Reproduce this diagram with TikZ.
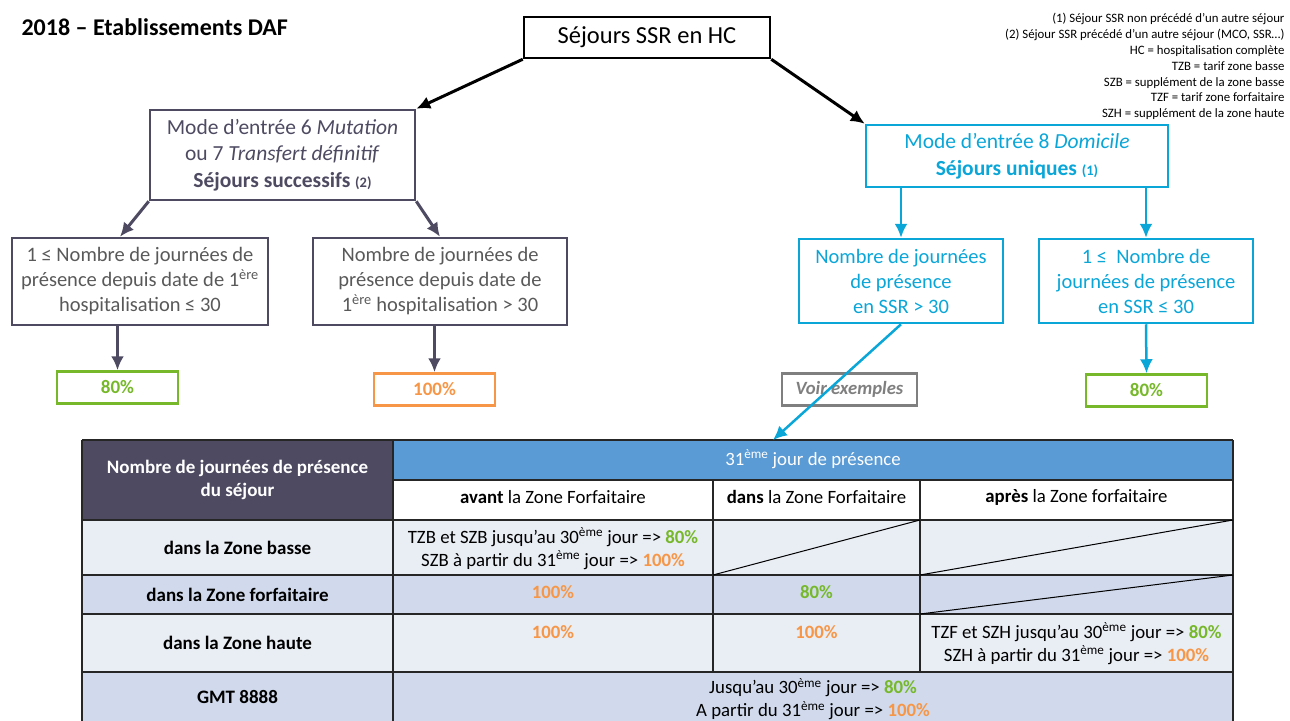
\documentclass[tikz,border=0pt]{standalone}
\usepackage{fontspec}
\setmainfont{Carlito}
\usetikzlibrary{arrows.meta}

\definecolor{ardoise}{HTML}{4E4A62}
\definecolor{grisbox}{HTML}{595959}
\definecolor{cyanbox}{HTML}{0AA6D8}
\definecolor{vert}{HTML}{76B82A}
\definecolor{orange}{HTML}{F79646}
\definecolor{grisvoir}{HTML}{7F7F7F}
\definecolor{bleutab}{HTML}{5B9BD5}
\definecolor{lignea}{HTML}{E9EDF4}
\definecolor{ligneb}{HTML}{D0DAEC}

\newcommand{\vpct}[1]{\textcolor{vert}{\textbf{#1}}}
\newcommand{\opct}[1]{\textcolor{orange}{\textbf{#1}}}
\newcommand{\eme}{\textsuperscript{ème}}

\tikzset{
  >={Latex[length=14pt,width=13pt]},
  boite/.style={draw, line width=2.5pt, align=center, inner sep=0pt},
  pctbox/.style={draw, line width=2.5pt, inner sep=0pt, minimum width=121pt, minimum height=32pt,
    font=\fontsize{19}{22}\selectfont\bfseries},
  cellule/.style={align=center, font=\fontsize{18.8}{23}\selectfont},
  libelle/.style={align=center, font=\fontsize{19}{23}\selectfont\bfseries},
  grille/.style={line width=1.3pt, draw=black!85},
}

\begin{document}
\begin{tikzpicture}[x=1pt,y=-1pt]
  \useasboundingbox (0,0) rectangle (1290,720);

  \node[anchor=west, font=\fontsize{24}{28}\selectfont\bfseries] (titre) at (18,27) {2018 – Etablissements DAF};
  \node[anchor=north east, align=right, font=\fontsize{12.8}{15.8}\selectfont] (notes) at (1288,10)
    {(1) Séjour SSR non précédé d’un autre séjour\\
     (2) Séjour SSR précédé d’un autre séjour (MCO, SSR…)\\
     HC = hospitalisation complète\\
     TZB = tarif zone basse\\
     SZB = supplément de la zone basse\\
     TZF = tarif zone forfaitaire\\
     SZH = supplément de la zone haute};

  % arbre
  \node[boite, draw=black, minimum width=246pt, minimum height=41pt, font=\fontsize{24.5}{28}\selectfont] (hc) at (647,37.5) {Séjours SSR en HC};

  \node[boite, draw=ardoise, text=ardoise, minimum width=265pt, minimum height=90pt, font=\fontsize{21.5}{26.5}\selectfont] (mut) at (282.5,155)
    {Mode d’entrée 6 \textit{Mutation}\\ ou 7 \textit{Transfert définitif}\\ \textbf{Séjours successifs} {\fontsize{14.5}{15}\selectfont\textbf{(2)}}};
  \node[boite, draw=cyanbox, text=cyanbox, minimum width=302pt, minimum height=62pt, font=\fontsize{21.5}{26.5}\selectfont] (dom) at (1017,156)
    {Mode d’entrée 8 \textit{Domicile}\\ \textbf{Séjours uniques} {\fontsize{14.5}{15}\selectfont\textbf{(1)}}};

  \node[boite, draw=ardoise, text=grisbox, minimum width=256pt, minimum height=87pt, font=\fontsize{20.5}{25}\selectfont] (infa) at (140,281.5)
    {1 ≤ Nombre de journées de\\ présence depuis date de 1\textsuperscript{ère}\\ hospitalisation ≤ 30};
  \node[boite, draw=ardoise, text=grisbox, minimum width=254pt, minimum height=87pt, font=\fontsize{20.5}{25}\selectfont] (supa) at (440,281.5)
    {Nombre de journées de\\ présence depuis date de\\ 1\textsuperscript{ère} hospitalisation > 30};
  \node[boite, draw=cyanbox, text=cyanbox, minimum width=204pt, minimum height=84pt, font=\fontsize{20.5}{25}\selectfont] (supd) at (901,281)
    {Nombre de journées\\ de présence\\ en SSR > 30};
  \node[boite, draw=cyanbox, text=cyanbox, minimum width=214pt, minimum height=84pt, font=\fontsize{20.5}{25}\selectfont] (infd) at (1146,281)
    {1 ≤ ~Nombre de\\ journées de présence\\ en SSR ≤ 30};

  \node[pctbox, draw=vert, text=vert] (pinfa) at (117.5,387.5) {80\%};
  \node[pctbox, draw=orange, text=orange] (psupa) at (434.5,389.5) {100\%};
  \node[pctbox, draw=grisvoir, text=grisvoir, minimum width=135pt, font=\fontsize{18.7}{22}\selectfont\bfseries\itshape] (voir) at (849.5,389.5) {Voir exemples};
  \node[pctbox, draw=vert, text=vert] (pinfd) at (1146.5,390.5) {80\%};

  \draw[->, line width=3pt] (hc.south west) -- (mut.north east);
  \draw[->, line width=3pt] (hc.south east) -- (dom.north west);
  \draw[->, line width=3pt, ardoise] (mut.south west) -- ([xshift=-20pt]infa.north);
  \draw[->, line width=3pt, ardoise] (mut.south east) -- (supa.north);
  \draw[->, line width=3pt, ardoise] (pinfa.north |- infa.south) -- (pinfa.north);
  \draw[->, line width=3pt, ardoise] (psupa.north |- supa.south) -- (psupa.north);
  \draw[->, line width=2.5pt, cyanbox] (supd.north |- dom.south) -- (supd.north);
  \draw[->, line width=2.5pt, cyanbox] (infd.north |- dom.south) -- (infd.north);
  \draw[->, line width=2.5pt, cyanbox] (infd.south) -- (pinfd.north);

  % tableau
  \fill[ardoise] (82,440) rectangle (393,520);
  \fill[bleutab] (393,440) rectangle (1233,480);
  \fill[white] (393,480) rectangle (1233,520);
  \fill[lignea] (82,520) rectangle (1233,575);
  \fill[ligneb] (82,575) rectangle (1233,614);
  \fill[lignea] (82,614) rectangle (1233,672);
  \fill[ligneb] (82,672) rectangle (1233,725);
  \draw[grille] (82,440) -- (1233,440);
  \draw[grille] (393,480) -- (1233,480);
  \draw[grille] (82,520) -- (1233,520);
  \draw[grille] (82,575) -- (1233,575);
  \draw[grille] (82,614) -- (1233,614);
  \draw[grille] (82,672) -- (1233,672);
  \draw[grille] (82,440) -- (82,725);
  \draw[grille] (393,440) -- (393,725);
  \draw[grille] (713,480) -- (713,672);
  \draw[grille] (920,480) -- (920,672);
  \draw[grille] (1233,440) -- (1233,725);
  \draw[line width=1pt] (713,575) -- (920,520);
  \draw[line width=1pt] (920,575) -- (1233,520);
  \draw[line width=1pt] (920,614) -- (1233,575);
  \coordinate (tabhaut) at (773,440);

  \draw[->, line width=2.5pt, cyanbox] (supd.south) -- (tabhaut);

  \node[libelle, text=white] (entete) at (237.5,480) {Nombre de journées de présence\\ du séjour};
  \node[cellule, text=white] (jour31) at (813,459) {31\eme{} jour de présence};
  \node[cellule] (avant) at (553,497) {\textbf{avant} la Zone Forfaitaire};
  \node[cellule] (dans) at (816.5,497) {\textbf{dans} la Zone Forfaitaire};
  \node[cellule] (apres) at (1076.5,497) {\textbf{après} la Zone forfaitaire};

  \node[libelle] (zbasse) at (237.5,548) {dans la Zone basse};
  \node[libelle] (zforf) at (237.5,595) {dans la Zone forfaitaire};
  \node[libelle] (zhaute) at (237.5,643) {dans la Zone haute};
  \node[libelle] (gmt) at (237.5,697) {GMT 8888};

  \node[cellule] (basav) at (553,548.5) {TZB et SZB jusqu’au 30\eme{} jour => \vpct{80\%}\\ SZB à partir du 31\eme{} jour => \opct{100\%}};
  \node[cellule] (forav) at (553,592) {\opct{100\%}};
  \node[cellule] (fordans) at (816.5,592) {\vpct{80\%}};
  \node[cellule] (hauav) at (553,632) {\opct{100\%}};
  \node[cellule] (haudans) at (816.5,632) {\opct{100\%}};
  \node[cellule] (hauap) at (1076.5,643.5) {TZF et SZH jusqu’au 30\eme{} jour => \vpct{80\%}\\ SZH à partir du 31\eme{} jour => \opct{100\%}};
  \node[cellule] (gmtall) at (813,699) {Jusqu’au 30\eme{} jour => \vpct{80\%}\\ A partir du 31\eme{} jour => \opct{100\%}};
\end{tikzpicture}
\end{document}
